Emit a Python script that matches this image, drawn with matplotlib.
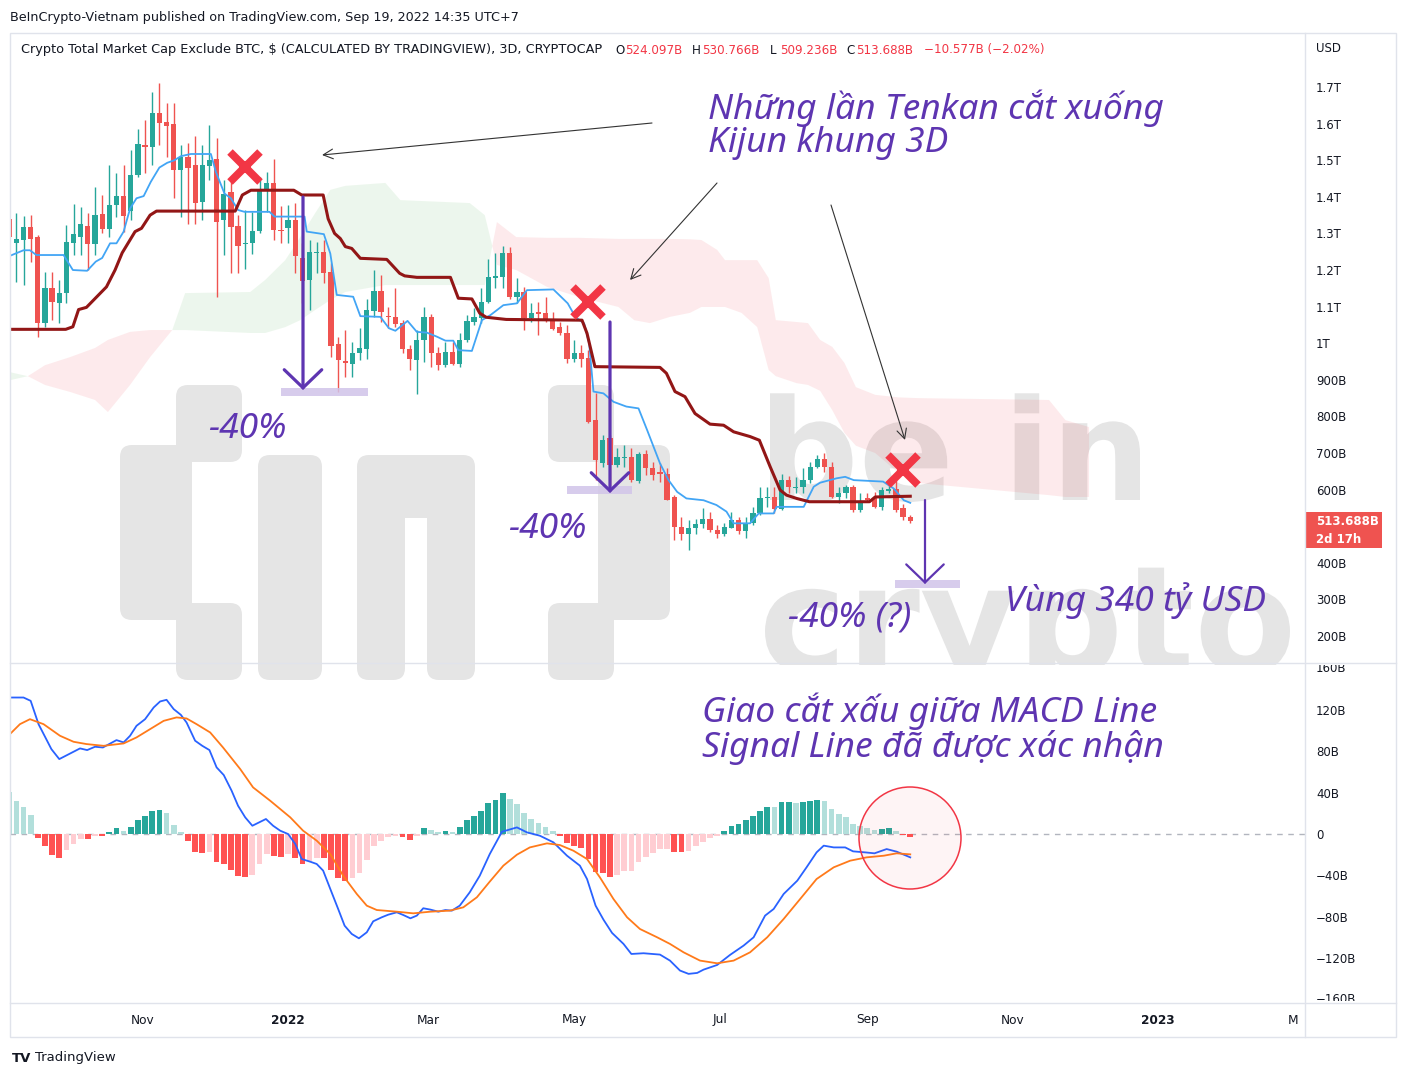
import datetime as dt
import numpy as np
import matplotlib
matplotlib.use("Agg")
import matplotlib.pyplot as plt
import matplotlib.dates as mdates
from matplotlib.transforms import Affine2D, Bbox, IdentityTransform, blended_transform_factory
from matplotlib.patches import Rectangle, FancyBboxPatch, Circle, PathPatch, FancyArrowPatch
from matplotlib.textpath import TextPath
from matplotlib.font_manager import FontProperties
from matplotlib.lines import Line2D

# ---------------- data ----------------
start_date = dt.datetime(2021, 9, 6)
step_days = 3

opens = [1340, 1275, 1282, 1318, 1291, 1054, 1150, 1109, 1138, 1274,
         1291, 1320, 1271, 1353, 1311, 1377, 1403, 1361, 1459, 1541,
         1537, 1628, 1605, 1600, 1473, 1510, 1486, 1385, 1484, 1503,
         1336, 1414, 1321, 1270, 1273, 1306, 1418, 1437, 1310, 1314,
         1336, 1232, 1173, 1246, 1250, 1195, 998, 951, 943, 972,
         983, 1089, 1143, 1074, 1071, 1054, 983, 954, 1010, 1071,
         974, 940, 977, 943, 1010, 1059, 1068, 1113, 1177, 1182,
         1247, 1125, 1141, 1068, 1086, 1083, 1065, 1045, 1027, 956,
         974, 959, 790, 672, 740, 667, 686, 690, 624, 697,
         660, 649, 644, 579, 499, 480, 494, 506, 519, 489,
         480, 496, 517, 488, 510, 535, 576, 579, 546, 626,
         604, 606, 626, 662, 683, 662, 581, 590, 606, 544,
         576, 576, 553, 597, 603, 549, 524.097]
highs = [1409, 1355, 1347, 1350, 1295, 1195, 1195, 1172, 1323, 1380,
         1373, 1355, 1426, 1405, 1487, 1464, 1487, 1528, 1585, 1610,
         1687, 1710, 1655, 1655, 1541, 1546, 1566, 1541, 1596, 1560,
         1446, 1446, 1350, 1364, 1359, 1455, 1469, 1503, 1375, 1377,
         1382, 1273, 1282, 1277, 1282, 1218, 1018, 1036, 1004, 1041,
         1122, 1200, 1186, 1100, 1150, 1063, 995, 1036, 1100, 1081,
         990, 1004, 1004, 1027, 1077, 1095, 1150, 1229, 1247, 1266,
         1264, 1177, 1154, 1109, 1113, 1127, 1086, 1059, 1050, 1009,
         995, 981, 863, 749, 749, 713, 722, 713, 704, 708,
         676, 672, 658, 585, 526, 517, 521, 549, 540, 503,
         508, 540, 526, 526, 553, 608, 608, 608, 644, 637,
         635, 658, 676, 694, 701, 676, 608, 612, 612, 590,
         590, 594, 608, 626, 626, 561, 530.766]
lows = [1282, 1168, 1159, 1223, 1018, 1045, 1063, 1054, 1109, 1241,
        1241, 1200, 1241, 1300, 1291, 1346, 1305, 1336, 1455, 1464,
        1487, 1541, 1510, 1396, 1346, 1327, 1327, 1336, 1446, 1127,
        1241, 1191, 1191, 1204, 1245, 1300, 1359, 1282, 1273, 1273,
        1191, 1109, 1091, 1191, 1164, 963, 867, 908, 908, 954,
        956, 1072, 1059, 1041, 1045, 972, 927, 861, 949, 936,
        927, 936, 940, 936, 1004, 1050, 1054, 1109, 1150, 1150,
        1122, 1109, 1036, 1059, 1022, 1059, 1036, 1022, 945, 949,
        936, 781, 626, 662, 594, 662, 662, 621, 619, 640,
        626, 621, 571, 462, 462, 435, 480, 494, 485, 467,
        473, 494, 480, 467, 503, 530, 553, 535, 544, 590,
        590, 590, 617, 658, 649, 576, 564, 576, 540, 540,
        567, 549, 544, 590, 540, 517, 509.236]
closes = [1290, 1284, 1318, 1284, 1054, 1150, 1113, 1138, 1277, 1298,
          1327, 1271, 1350, 1311, 1377, 1403, 1347, 1459, 1543, 1537,
          1628, 1602, 1594, 1473, 1508, 1478, 1384, 1486, 1500, 1332,
          1409, 1318, 1265, 1275, 1306, 1418, 1437, 1309, 1307, 1336,
          1238, 1170, 1250, 1250, 1191, 992, 954, 947, 974, 986,
          1091, 1143, 1086, 1071, 1052, 983, 956, 1010, 1071, 974,
          940, 977, 943, 1010, 1061, 1071, 1113, 1180, 1183, 1247,
          1125, 1141, 1068, 1083, 1081, 1065, 1040, 1027, 956, 974,
          958, 785, 681, 737, 667, 690, 690, 626, 697, 658,
          640, 642, 573, 499, 480, 494, 506, 519, 489, 480,
          497, 517, 488, 510, 535, 576, 580, 546, 626, 606,
          608, 626, 662, 683, 662, 581, 590, 606, 544, 567,
          571, 553, 599, 603, 544, 524, 513.688]

# Ichimoku lines (candle index, value in billions)
tenkan_idx = [0.0, 2.0, 2.9, 3.8, 7.6, 8.9, 10.9, 12.1, 13.0, 14.1, 15.0, 16.0, 16.9, 17.8, 18.8,
              19.8, 21.0, 22.1, 23.1, 24.0, 25.4, 28.2, 28.9, 30.1, 31.0, 32.0, 32.9, 36.4, 37.1,
              41.3, 41.6, 44.0, 44.9, 45.8, 48.1, 49.1, 51.9, 53.1, 54.0, 55.7, 57.0, 58.4, 59.8,
              61.0, 62.1, 62.8, 64.7, 66.1, 67.3, 69.1, 71.0, 72.4, 76.1, 78.1, 79.2, 80.4, 81.1,
              81.7, 83.1, 84.5, 86.3, 88.0, 89.2, 91.0, 92.2, 93.4, 94.7, 97.1, 98.9, 100.3, 101.3,
              103.6, 104.8, 106.9, 107.3, 111.1, 112.5, 113.4, 115.7, 116.9, 118.1, 122.2, 123.7,
              125.1, 126.0]
tenkan_val = [1238, 1254, 1254, 1241, 1241, 1200, 1198, 1223, 1233, 1273, 1273, 1305, 1368, 1396, 1402,
              1441, 1480, 1493, 1500, 1511, 1517, 1517, 1468, 1409, 1396, 1364, 1359, 1359, 1346,
              1346, 1305, 1298, 1245, 1132, 1127, 1074, 1072, 1041, 1034, 1061, 1031, 1029, 1018,
              1007, 1007, 981, 979, 1063, 1077, 1104, 1109, 1145, 1147, 1109, 1071, 1054, 999,
              868, 863, 840, 827, 822, 763, 672, 626, 594, 576, 571, 558, 540, 508,
              508, 535, 535, 553, 553, 608, 619, 631, 635, 626, 622, 603,
              571, 564]
kijun_idx = [0.0, 7.9, 8.9, 9.7, 10.8, 13.6, 14.8, 15.8, 17.6, 18.5, 19.7, 20.6, 31.6, 32.6, 33.8,
             39.8, 40.9, 43.9, 44.6, 45.5, 46.3, 47.0, 47.9, 49.1, 52.8, 54.6, 55.3, 57.0, 61.7,
             62.8, 64.7, 65.8, 66.7, 69.5, 80.1, 80.8, 81.9, 91.0, 91.9, 93.1, 94.5, 95.9, 98.0,
             99.9, 101.3, 103.6, 104.9, 106.4, 107.8, 108.7, 110.1, 111.9, 120.3, 121.1, 126.0]
kijun_val = [1038, 1038, 1045, 1092, 1098, 1154, 1200, 1247, 1305, 1314, 1350, 1361, 1361, 1405, 1418,
             1418, 1405, 1405, 1340, 1300, 1286, 1264, 1259, 1232, 1229, 1191, 1184, 1180, 1180,
             1123, 1121, 1082, 1071, 1065, 1063, 1027, 936, 934, 918, 868, 854, 808, 779,
             776, 758, 745, 735, 663, 599, 585, 576, 567, 567, 580, 582]
cloud_idx = [0.1, 2.6, 5.0, 8.5, 12.0, 13.8, 16.9, 19.7, 22.8, 24.6, 33.7, 35.8, 38.6, 40.7, 42.8,
             44.9, 47.0, 52.6, 54.7, 64.4, 66.5, 68.2, 70.9, 75.2, 79.7, 85.2, 87.4, 89.6, 92.4,
             95.2, 96.8, 99.0, 100.1, 102.4, 104.6, 106.2, 107.2, 110.1, 111.7, 113.4, 115.1,
             116.8, 118.4, 121.1, 124.4, 127.2, 145.4, 147.7, 151.0]
span_a = [921, 910, 886, 867, 845, 812, 886, 962, 1036, 1137, 1140, 1173, 1227, 1290, 1356,
          1419, 1430, 1438, 1391, 1383, 1350, 1214, 1200, 1154, 1126, 1099, 1063, 1055, 1072,
          1083, 1099, 1099, 1099, 1083, 1044, 927, 910, 891, 886, 870, 817,
          755, 720, 700, 645, 618, 585, 580, 580]
span_b = [899, 910, 940, 962, 987, 1009, 1031, 1036, 1036, 1036, 1028, 1028, 1044, 1063, 1091,
          1118, 1140, 1159, 1159, 1159, 1159, 1331, 1290, 1288, 1288, 1285, 1285, 1285, 1285,
          1284, 1282, 1255, 1227, 1227, 1227, 1178, 1063, 1058, 1055, 1009, 990,
          946, 880, 859, 852, 850, 845, 790, 771]

# MACD
hist_vals = [40.2, 32.1, 26.3, 18.3, -3.9, -11.9, -19.9, -23.5, -15.4, -9.6,
             -4.8, -5.0, -1.6, -1.9, 2.2, 5.5, 3.2, 7.1, 13.5, 17.0,
             22.5, 22.8, 20.2, 8.7, 1.6, -6.4, -17.0, -18.3, -17.0, -27.3,
             -28.9, -34.4, -40.2, -41.8, -39.2, -28.9, -19.3, -21.5, -21.8, -19.3,
             -22.8, -28.6, -26.3, -22.8, -23.2, -34.4, -42.4, -45.0, -42.7, -37.9,
             -25.1, -11.9, -6.4, -2.6, -1.6, -2.6, -5.5, -1.6, 5.5, 3.9,
             1.6, 2.9, 1.6, 6.4, 13.5, 17.7, 22.5, 29.6, 33.1, 39.2,
             33.7, 28.9, 20.2, 14.5, 10.6, 6.4, 2.6, -1.6, -8.7, -11.2,
             -13.5, -24.1, -36.9, -37.9, -41.8, -39.5, -36.0, -35.8, -27.3, -22.5,
             -18.3, -14.5, -14.3, -17.0, -17.7, -16.7, -11.9, -7.4, -3.9, -1.6,
             2.6, 7.4, 9.6, 13.5, 17.0, 22.5, 26.3, 26.0, 30.5, 30.7,
             30.4, 30.6, 32.1, 33.1, 32.1, 24.1, 19.3, 16.7, 9.6, 7.4,
             5.8, 3.9, 4.8, 5.8, 3.2, -0.6, -3.2]
macd_idx = [0.0, 2.0, 3.0, 4.1, 5.9, 7.0, 9.9, 10.9, 12.0, 13.1, 15.0, 16.0, 16.9, 17.8, 19.0, 20.2,
            21.1, 22.0, 23.0, 24.0, 24.8, 26.0, 27.0, 28.0, 29.0, 30.0, 31.1, 32.0, 33.0, 34.0, 35.9,
            36.9, 37.9, 39.0, 40.0, 40.9, 42.1, 43.0, 43.9, 44.9, 46.0, 46.9, 47.9, 48.9, 50.0, 50.9,
            52.1, 53.0, 54.2, 55.1, 56.1, 57.0, 57.9, 58.9, 60.0, 61.0, 61.9, 63.0, 64.4, 65.8, 67.2,
            68.9, 71.0, 72.4, 74.2, 76.1, 78.0, 79.8, 80.8, 82.0, 83.1, 84.3, 85.9, 87.0, 88.7, 91.0,
            92.4, 93.8, 95.0, 96.2, 97.1, 99.0, 100.8, 102.7, 104.1, 105.7, 106.9, 108.3, 110.2,
            111.5, 112.9, 113.9, 115.3, 116.9, 118.0, 119.7, 121.0, 122.7, 124.1, 126.0]
macd_val = [131.7, 131.7, 128.5, 106.0, 81.9, 72.3, 82.6, 81.0, 84.2, 83.5, 90.6, 88.4, 94.8, 104.4,
            110.8, 122.1, 127.9, 129.5, 120.5, 115.0, 107.6, 90.0, 85.1, 81.0, 64.3, 56.9, 41.8, 27.3,
            16.1, 8.0, 14.5, 8.0, 3.2, 0.0, -9.6, -24.1, -26.7, -28.9, -35.3, -53.0, -72.3, -88.4,
            -96.4, -100.6, -94.8, -84.2, -80.3, -77.8, -75.5, -78.1, -81.3, -78.7, -71.6, -72.9,
            -74.9, -73.3, -73.9, -69.1, -56.2, -40.2, -19.3, 2.2, 6.4, 1.6, -1.6, -8.0, -20.9, -30.5,
            -43.4, -69.1, -82.6, -95.4, -106.0, -115.7, -115.0, -116.3, -122.1, -131.7, -134.9,
            -134.0, -130.8, -126.3, -116.6, -107.6, -99.6, -78.7, -72.3, -57.8, -45.0, -32.1, -17.7,
            -11.2, -12.9, -12.9, -16.7, -17.7, -18.6, -14.5, -17.0, -22.5]
signal_idx = [0.1, 1.5, 2.9, 4.8, 7.1, 9.0, 10.8, 13.2, 16.0, 17.8, 19.7, 21.6, 23.4, 24.8, 26.2,
              28.1, 29.9, 32.3, 34.1, 36.5, 39.3, 41.1, 43.0, 44.9, 46.7, 48.6, 50.0, 51.4, 54.2,
              56.5, 58.9, 61.6, 63.5, 65.4, 67.2, 69.1, 71.0, 72.8, 75.2, 77.0, 78.9, 80.8, 82.6,
              84.5, 86.4, 88.2, 90.6, 92.4, 94.3, 96.6, 99.0, 101.3, 103.6, 106.0, 108.3, 110.6,
              112.9, 115.3, 117.6, 119.9, 122.3, 124.1, 126.0]
signal_val = [96.4, 106.0, 110.8, 106.0, 94.8, 89.0, 86.8, 85.1, 87.4, 93.2, 101.2, 109.2, 112.5,
              111.5, 106.0, 98.0, 83.5, 62.7, 45.0, 32.1, 16.1, 3.2, -6.4, -19.3, -40.2, -57.8,
              -69.1, -73.3, -74.9, -76.5, -74.9, -73.9, -70.7, -61.0, -45.9, -30.5, -19.9, -12.9,
              -9.0, -10.6, -16.1, -24.1, -41.8, -62.7, -80.3, -91.6, -99.6, -106.0, -114.1, -122.1,
              -124.7, -122.1, -114.1, -99.6, -81.9, -62.7, -43.4, -32.1, -25.7, -22.5, -20.9,
              -18.6, -19.6]

price_ticks = [200, 300, 400, 600, 700, 800, 900, 1000, 1100, 1200, 1300, 1400, 1500, 1600, 1700]
price_labels = ['200B', '300B', '400B', '600B', '700B', '800B', '900B', '1T', '1.1T', '1.2T',
                '1.3T', '1.4T', '1.5T', '1.6T', '1.7T']
macd_ticks = [120, 80, 40, 0, -40, -80, -120]
macd_labels = ['120B', '80B', '40B', '0', '\u221240B', '\u221280B', '\u2212120B']
month_ticks = [dt.datetime(2021, 11, 1), dt.datetime(2022, 1, 1), dt.datetime(2022, 3, 1),
               dt.datetime(2022, 5, 1), dt.datetime(2022, 7, 1), dt.datetime(2022, 9, 1),
               dt.datetime(2022, 11, 1), dt.datetime(2023, 1, 1), dt.datetime(2023, 3, 1)]
month_labels = ['Nov', '2022', 'Mar', 'May', 'Jul', 'Sep', 'Nov', '2023', 'Mar']

# ---------------- figure ----------------
W, H = 1408, 1080
fig = plt.figure(figsize=(W / 100, H / 100), dpi=100)
fig.patch.set_facecolor('white')
pixT = Affine2D().scale(1, -1).translate(0, H)   # top-left pixel coords -> display

def fig_rect(x0, y0, x1, y1):
    return [x0 / W, 1 - y1 / H, (x1 - x0) / W, (y1 - y0) / H]

ax = fig.add_axes(fig_rect(10, 35, 1305, 663))
ax2 = fig.add_axes(fig_rect(10, 663, 1305, 1003), sharex=ax)
for a in (ax, ax2):
    a.set_facecolor('none')
    for s in a.spines.values():
        s.set_visible(False)

base = mdates.date2num(start_date)
def idx_to_x(idx):
    return base + step_days * np.asarray(idx, dtype=float)

n = len(opens)
xs = idx_to_x(np.arange(n))
o = np.array(opens); hgh = np.array(highs); lw_ = np.array(lows); c = np.array(closes)

UP, DN = '#26a69a', '#ef5350'
cols = [UP if c[k] >= o[k] else DN for k in range(n)]

# ---- watermark (behind everything) ----
WM = '#e5e5e5'
def rrect(x0, y0, x1, y1, r=12):
    p = FancyBboxPatch((x0, H - y1), x1 - x0, y1 - y0,
                       boxstyle=f'round,pad=0,rounding_size={r}',
                       transform=IdentityTransform(), fc=WM, ec='none', zorder=-5)
    fig.add_artist(p)

# left brace
rrect(176, 385, 242, 462)
rrect(120, 445, 192, 620)
rrect(176, 603, 242, 680)
# i
rrect(258, 455, 322, 680)
# n
rrect(357, 455, 405, 680)
rrect(357, 455, 475, 518, r=20)
rrect(427, 455, 475, 680)
# right brace
rrect(548, 385, 614, 462)
rrect(598, 445, 670, 620)
rrect(548, 603, 614, 680)

def wm_text(s, x0, width, baseline, clip_y=None):
    fp = FontProperties(family='DejaVu Sans', weight='bold')
    tp = TextPath((0, 0), s, size=1, prop=fp)
    ext = tp.get_extents()
    sc = width / ext.width
    tr = Affine2D().translate(-ext.x0, 0).scale(sc).translate(x0, H - baseline)
    p = PathPatch(tr.transform_path(tp), fc=WM, ec='none', transform=IdentityTransform(), zorder=-5)
    if clip_y is not None:
        p.set_clip_box(Bbox.from_extents(0, H - clip_y, W, H))
        p.set_clip_on(True)
    fig.add_artist(p)

wm_text('be in', 770, 370, 500)
wm_text('crypto', 765, 525, 672, clip_y=665)

# ---- Ichimoku cloud ----
cx = idx_to_x(cloud_idx)
sa = np.array(span_a, float); sb = np.array(span_b, float)
ax.fill_between(cx, sa, sb, where=sa >= sb, interpolate=True, color=(0.30, 0.69, 0.31, 0.10), lw=0, zorder=1)
ax.fill_between(cx, sa, sb, where=sa < sb, interpolate=True, color=(0.95, 0.21, 0.27, 0.10), lw=0, zorder=1)

# ---- candles ----
ax.vlines(xs, lw_, hgh, colors=cols, lw=1, zorder=3)
body_bot = np.minimum(o, c)
body_h = np.maximum(np.abs(c - o), 2.8)
ax.bar(xs, body_h, bottom=body_bot, width=2.2, color=cols, lw=0, zorder=4)

# ---- tenkan / kijun ----
ax.plot(idx_to_x(tenkan_idx), tenkan_val, color='#42a5f5', lw=1.3, zorder=5)
ax.plot(idx_to_x(kijun_idx), kijun_val, color='#921616', lw=2.2, zorder=5)

ax.set_xlim(idx_to_x(0.11), idx_to_x(181.2))
ax.set_ylim(126.4, 1842.1)
ax.yaxis.tick_right()
ax.set_yticks(price_ticks)
ax.set_yticklabels(price_labels)
ax.tick_params(axis='y', length=0, pad=8, labelsize=8.5, labelcolor='#131722')
ax.tick_params(axis='x', bottom=False, labelbottom=False)

# last price label
last = closes[-1]
btr = blended_transform_factory(ax.transAxes, ax.transData)
ax.add_patch(Rectangle((1.0, last - 73), (1382 - 1305) / 1295, 98, transform=btr,
                       fc='#ef5350', ec='none', clip_on=False, zorder=6))
ax.text(1.0085, last, f'{last:.3f}B', transform=btr, color='white', fontsize=8.5,
        fontweight='bold', va='center', ha='left', clip_on=False, zorder=7)
ax.text(1.0085, last - 49, '2d 17h', transform=btr, color='white', fontsize=8.5,
        fontweight='bold', va='center', ha='left', clip_on=False, zorder=7)

# ---- MACD panel ----
hist_colors = []
for k, v in enumerate(hist_vals):
    prev = hist_vals[k - 1] if k > 0 else v + 1
    if v >= 0:
        hist_colors.append('#26a69a' if v > prev else '#b2dfdb')
    else:
        hist_colors.append('#ffcdd2' if v > prev else '#ff5252')
ax2.bar(xs, hist_vals, width=2.4, color=hist_colors, lw=0, zorder=2)
ax2.axhline(0, color='#b2b5be', lw=1, ls=(0, (4, 4)), zorder=1)
ax2.plot(idx_to_x(macd_idx), macd_val, color='#2962ff', lw=1.3, zorder=4)
ax2.plot(idx_to_x(signal_idx), signal_val, color='#ff7a1a', lw=1.3, zorder=4)
ax2.set_ylim(-163, 165)
ax2.yaxis.tick_right()
ax2.set_yticks(macd_ticks)
ax2.set_yticklabels(macd_labels)
ax2.tick_params(axis='y', length=0, pad=8, labelsize=8.5, labelcolor='#131722')
ax2.tick_params(axis='x', bottom=False, labelbottom=False)
btr2 = blended_transform_factory(ax2.transAxes, ax2.transData)
clipbox_macd = Bbox.from_extents(0, H - 1001, W, H - 665)
for val, lab in [(160, '160B'), (-160, '\u2212160B')]:
    t = ax2.text(1.0085, val, lab, transform=btr2, fontsize=8.5, color='#131722',
                 va='center', ha='left')
    t.set_clip_box(clipbox_macd)
    t.set_clip_on(True)

# x labels
bx = blended_transform_factory(ax2.transData, ax2.transAxes)
clip_x = Bbox.from_extents(0, 0, 1298, H)
for d, lab in zip(month_ticks, month_labels):
    t = ax2.text(mdates.date2num(d), -0.05, lab, transform=bx, ha='center', va='center',
                 fontsize=8.7, color='#131722',
                 fontweight='bold' if lab.isdigit() else 'normal')
    t.set_clip_box(clip_x)
    t.set_clip_on(True)

# ---- frame lines ----
GRID = '#e0e3eb'
fig.add_artist(Rectangle((10, 33), 1386, 1004, transform=pixT, fc='none', ec=GRID, lw=1, zorder=8))
for (x0, y0, x1, y1) in [(1305, 33, 1305, 1037), (10, 663, 1396, 663), (10, 1003, 1396, 1003)]:
    fig.add_artist(Line2D([x0, x1], [y0, y1], transform=pixT, color=GRID, lw=1, zorder=8))

# ---- header texts ----
HF = ['DejaVu Sans']
fig.text(10, 17, 'BeInCrypto-Vietnam published on TradingView.com, Sep 19, 2022 14:35 UTC+7',
         transform=pixT, fontsize=9.2, color='#131722', va='center', ha='left', family=HF)
fig.text(21, 50, 'Crypto Total Market Cap Exclude BTC, $ (CALCULATED BY TRADINGVIEW), 3D, CRYPTOCAP',
         transform=pixT, fontsize=9.3, color='#131722', va='center', ha='left', family=HF)
for xl, lab, val in [(615, 'O', '524.097B'), (692, 'H', '530.766B'), (770, 'L', '509.236B'),
                     (846, 'C', '513.688B')]:
    fig.text(xl, 50, lab, transform=pixT, fontsize=8.6, color='#131722', va='center', family=HF)
    fig.text(xl + 10, 50, val, transform=pixT, fontsize=8.6, color='#f23645', va='center', family=HF)
fig.text(924, 50, '\u221210.577B (\u22122.02%)', transform=pixT, fontsize=8.6, color='#f23645',
         va='center', family=HF)
fig.text(1316, 49, 'USD', transform=pixT, fontsize=8.5, color='#131722', va='center')
fig.text(12, 1058, 'TV', transform=pixT, fontsize=9.5, color='#131722', va='center', fontweight='bold')
fig.text(35, 1058, 'TradingView', transform=pixT, fontsize=9.5, color='#131722', va='center')

# ---- annotations ----
PURPLE = '#5e35b1'
VF = ['Noto Sans', 'DejaVu Sans']
def ptext(x, y, s, size):
    fig.text(x, y, s, transform=pixT, fontsize=size, color=PURPLE, style='italic',
             family=VF, ha='left', va='baseline', zorder=10)

ptext(708, 119, 'Những lần Tenkan cắt xuống', 25.5)
ptext(708, 152, 'Kijun khung 3D', 25.5)
ptext(208, 438, '-40%', 25.5)
ptext(508, 538, '-40%', 25.5)
ptext(788, 627, '-40% (?)', 25.5)
ptext(1005, 611, 'Vùng 340 tỷ USD', 25.5)
ptext(702, 722, 'Giao cắt xấu giữa MACD Line', 25.5)
ptext(702, 757, 'Signal Line đã được xác nhận', 25.5)

# purple target bands
for (x0, y0, x1, y1) in [(281, 388, 368, 396), (567, 486, 632, 494), (895, 580, 960, 588)]:
    fig.add_artist(Rectangle((x0, y0), x1 - x0, y1 - y0, transform=pixT, fc='#d1c4e9', ec='none',
                             alpha=0.85, zorder=9))

def arrow(p0, p1, color, lw, hl, hw, z=10):
    a = FancyArrowPatch(p0, p1, transform=pixT, arrowstyle=f'->,head_length={hl},head_width={hw}',
                        mutation_scale=10, color=color, lw=lw, shrinkA=0, shrinkB=0, zorder=z,
                        capstyle='round', joinstyle='miter')
    fig.add_artist(a)

arrow((303, 197), (303, 390), PURPLE, 2.3, 1.3, 1.35)
arrow((610, 322), (610, 493), PURPLE, 2.3, 1.3, 1.35)
arrow((925, 500), (925, 584), PURPLE, 1.6, 1.3, 1.35)

arrow((652, 123), (322, 155), '#333333', 0.8, 0.7, 0.35)
arrow((717, 183), (630, 280), '#333333', 0.8, 0.7, 0.35)
arrow((831, 205), (905, 440), '#333333', 0.8, 0.7, 0.35)

for (x, y) in [(245, 167), (588, 302), (903, 470)]:
    fig.add_artist(Line2D([x], [y], transform=pixT, marker='x', ms=21, mew=5.6,
                          color='#f23645', zorder=11))

fig.add_artist(Circle((910, 838), 51, transform=pixT, fc=(0.95, 0.21, 0.27, 0.05),
                      ec='#f23645', lw=1.1, zorder=9))

fig.savefig('out.png', dpi=100)
